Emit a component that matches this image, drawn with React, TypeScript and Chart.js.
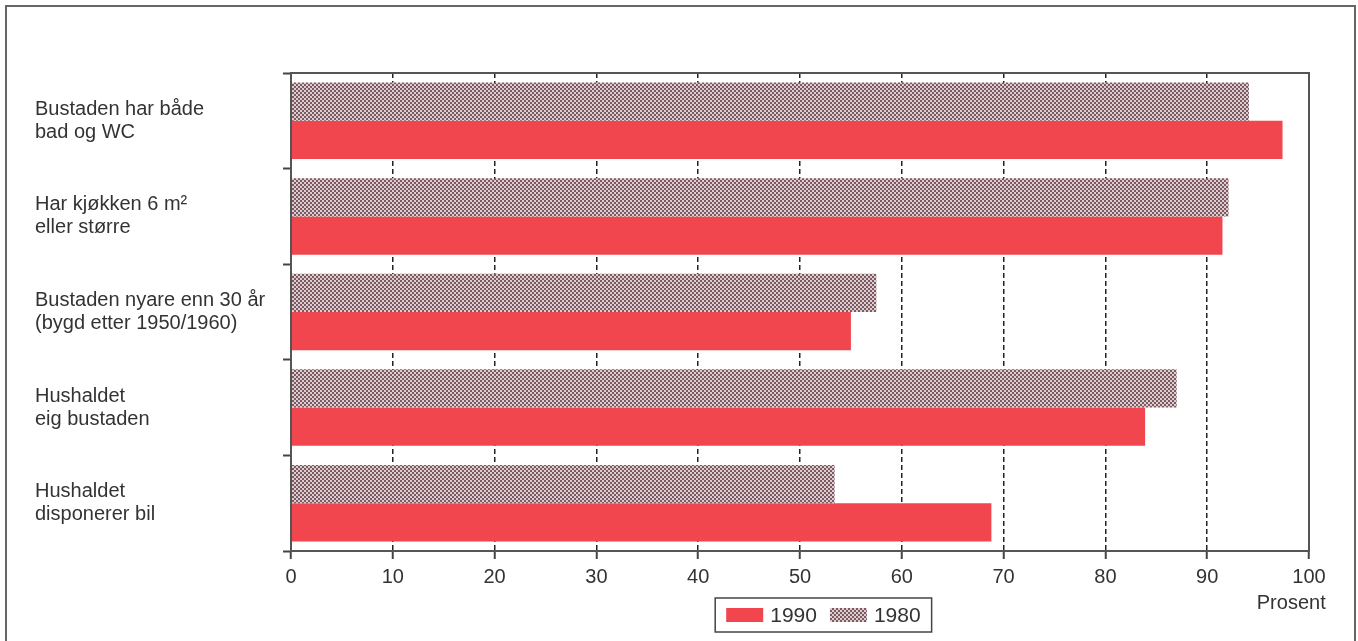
import React, { useEffect, useRef } from "react";
import { Chart, registerables } from "chart.js";

Chart.register(...registerables);

const categories: string[][] = [
  ["Bustaden har både", "bad og WC"],
  ["Har kjøkken 6 m²", "eller større"],
  ["Bustaden nyare enn 30 år", "(bygd etter 1950/1960)"],
  ["Hushaldet", "eig bustaden"],
  ["Hushaldet", "disponerer bil"],
];
const values1980: number[] = [94.1, 92.1, 57.5, 87.0, 53.4];
const values1990: number[] = [97.4, 91.5, 55.0, 83.9, 68.8];
const xTicks: number[] = [0, 10, 20, 30, 40, 50, 60, 70, 80, 90, 100];
const label1980 = "1980";
const label1990 = "1990";
const axisTitle = "Prosent";

const FONT = '"Liberation Sans", Arial, Helvetica, sans-serif';
const RED = "#f2464f";
const TEXT = "#333333";

function makePattern(): CanvasPattern | string {
  const c = document.createElement("canvas");
  c.width = 4;
  c.height = 4;
  const g = c.getContext("2d");
  if (!g) return "#a88a90";
  g.fillStyle = "#ddcdd0";
  g.fillRect(0, 0, 4, 4);
  g.fillStyle = "#7c5a62";
  g.fillRect(0, 0, 2, 2);
  g.fillRect(2, 2, 2, 2);
  const p = g.createPattern(c, "repeat");
  return p || "#a88a90";
}

export default function App() {
  const ref = useRef<HTMLCanvasElement | null>(null);

  useEffect(() => {
    if (!ref.current) return;
    const pattern = makePattern();

    const decor = {
      id: "decor",
      afterDraw(chart: any) {
        const { ctx, chartArea: a } = chart;
        const xs = chart.scales.x;
        ctx.save();
        ctx.setLineDash([]);
        ctx.strokeStyle = "#555";
        ctx.lineWidth = 2;
        ctx.strokeRect(a.left, a.top, a.right - a.left, a.bottom - a.top);

        // axis title
        ctx.font = `20px ${FONT}`;
        ctx.fillStyle = TEXT;
        ctx.textBaseline = "middle";
        ctx.textAlign = "right";
        const px100 = xs.getPixelForValue(100);
        const w100 = ctx.measureText("100").width;
        ctx.fillText(axisTitle, px100 + w100 / 2, a.bottom + 52);

        // legend
        ctx.font = `21px ${FONT}`;
        const items = [
          { text: label1990, fill: RED },
          { text: label1980, fill: pattern },
        ];
        const sw = 37, sh = 14, gap = 7, itemGap = 13, pad = 11;
        let total = pad * 2;
        items.forEach((it, i) => {
          total += sw + gap + ctx.measureText(it.text).width;
          if (i < items.length - 1) total += itemGap;
        });
        const cx = a.left + 0.523 * (a.right - a.left);
        const boxTop = a.bottom + 47;
        const boxH = 34;
        const boxLeft = cx - total / 2;
        ctx.strokeStyle = "#444";
        ctx.lineWidth = 1.5;
        ctx.strokeRect(boxLeft, boxTop, total, boxH);
        let x = boxLeft + pad;
        const cy = boxTop + boxH / 2;
        ctx.textAlign = "left";
        items.forEach((it) => {
          ctx.fillStyle = it.fill as any;
          ctx.fillRect(x, cy - sh / 2, sw, sh);
          x += sw + gap;
          ctx.fillStyle = TEXT;
          ctx.fillText(it.text, x, cy + 1);
          x += ctx.measureText(it.text).width + itemGap;
        });
        ctx.restore();
      },
    };

    const chart = new Chart(ref.current, {
      type: "bar",
      data: {
        labels: categories,
        datasets: [
          {
            label: label1980,
            data: values1980,
            backgroundColor: pattern as any,
            borderWidth: 0,
            categoryPercentage: 0.8,
            barPercentage: 1.0,
          },
          {
            label: label1990,
            data: values1990,
            backgroundColor: RED,
            borderWidth: 0,
            categoryPercentage: 0.8,
            barPercentage: 1.0,
          },
        ],
      },
      options: {
        indexAxis: "y",
        animation: false,
        responsive: true,
        maintainAspectRatio: false,
        layout: { padding: { top: 73, left: 35, right: 49, bottom: 50 } },
        plugins: {
          legend: { display: false },
          tooltip: { enabled: false },
        },
        scales: {
          x: {
            min: 0,
            max: 100,
            afterBuildTicks: (s: any) => {
              s.ticks = xTicks.map((v) => ({ value: v }));
            },
            afterFit: (s: any) => {
              s.height = 40;
            },
            grid: {
              color: (c: any) =>
                c.tick && (c.tick.value === 0 || c.tick.value === 100)
                  ? "rgba(0,0,0,0)"
                  : "#222",
              lineWidth: 1.5,
              tickColor: "#444",
              tickWidth: 2,
              tickLength: 8,
              tickBorderDash: [],
            } as any,
            border: { display: true, color: "#555", width: 2, dash: [5, 3] } as any,
            ticks: {
              font: { family: FONT, size: 20 },
              color: TEXT,
              padding: 6,
              maxRotation: 0,
            },
          },
          y: {
            afterFit: (s: any) => {
              s.width = 256;
            },
            grid: {
              drawOnChartArea: false,
              drawTicks: true,
              tickLength: 8,
              tickColor: "#444",
              tickWidth: 2,
            } as any,
            border: { display: true, color: "#555", width: 2 },
            ticks: {
              font: { family: FONT, size: 20, lineHeight: 1.15 },
              color: TEXT,
              crossAlign: "far",
              padding: 0,
            },
          },
        },
      },
      plugins: [decor],
    });

    return () => chart.destroy();
  }, []);

  return (
    <div style={{ position: "fixed", left: 0, top: 0, width: 1358, height: 641, background: "#fff" }}>
      <div
        style={{
          position: "absolute",
          left: 5,
          top: 5,
          width: 1347,
          height: 700,
          border: "2px solid #666",
          boxSizing: "content-box",
        }}
      />
      <div style={{ position: "absolute", left: 0, top: 0, width: 1358, height: 641 }}>
        <canvas ref={ref} />
      </div>
    </div>
  );
}
